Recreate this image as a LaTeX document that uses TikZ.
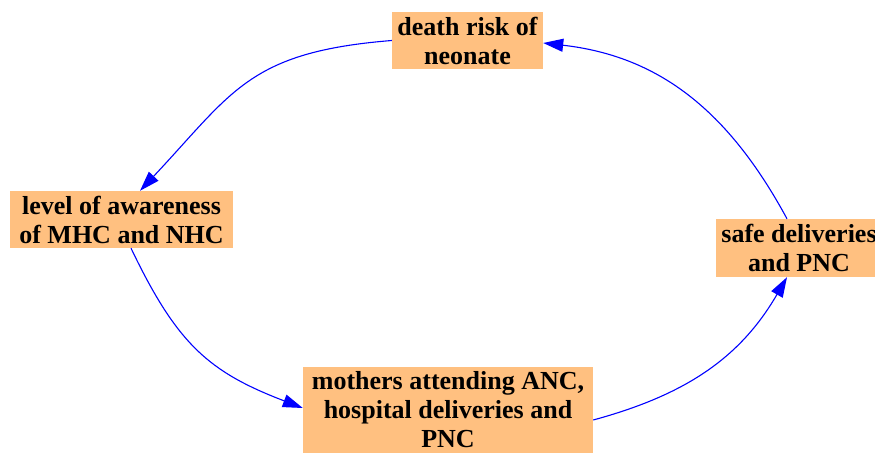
\documentclass[tikz,border=0pt]{standalone}
\usepackage{fontspec}
\setmainfont{Liberation Serif}
\usetikzlibrary{arrows.meta}
\definecolor{boxfill}{HTML}{FFC080}
\definecolor{linkblue}{HTML}{0000FF}

\begin{document}
\begin{tikzpicture}[x=1pt,y=1pt,
  factor/.style={fill=boxfill, inner sep=0pt, align=center,
    font=\fontsize{26}{29}\selectfont\bfseries},
  link/.style={draw=linkblue, line width=1.1pt,
    -{Triangle[length=20pt,width=13pt]}}]

  % page frame
  \fill[white] (0,0) rectangle (875,453);
  \clip (0,0) rectangle (875,453);

  % factors of the loop
  \node[factor, minimum width=151pt, minimum height=57pt] (death) at (467.5,412.5) {death risk of\\neonate};
  \node[factor, minimum width=223pt, minimum height=57pt] (level) at (121.5,233.5) {level of awareness\\of MHC and NHC};
  \node[factor, minimum width=166pt, minimum height=58pt] (safe) at (799,205) {safe deliveries\\and PNC};
  \node[factor, minimum width=290pt, minimum height=86pt] (mothers) at (448,43) {mothers attending ANC,\\hospital deliveries and\\PNC};

  % causal links
  \draw[link] (death.west) .. controls +(-143,-11.5) and +(93,99) .. ([xshift=18.5pt]level.north);
  \draw[link] ([xshift=9.5pt]level.south) .. controls +(46,-96) and +(-94,36) .. ([yshift=2pt]mothers.west);
  \draw[link] ([yshift=-10pt]mothers.east) .. controls +(92,25) and +(-47,-81) .. ([xshift=-12pt]safe.south);
  \draw[link] ([xshift=-12pt]safe.north) .. controls +(-59,109) and +(115,-13) .. ([yshift=-2.5pt]death.east);
\end{tikzpicture}
\end{document}
